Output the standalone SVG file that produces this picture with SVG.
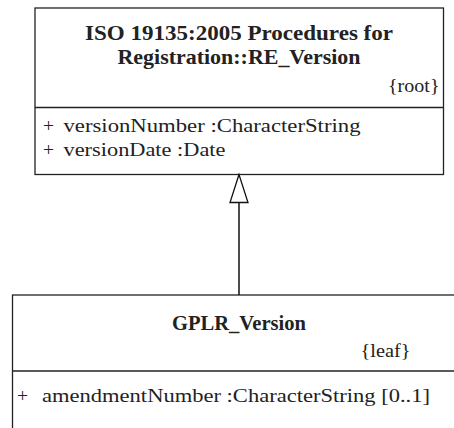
<svg xmlns="http://www.w3.org/2000/svg" width="454" height="428" viewBox="0 0 454 428">
<style>
.box{fill:#fff;stroke:#222;stroke-width:1.3}
.div{stroke:#222;stroke-width:1.3}
text{font-family:"Liberation Serif","DejaVu Serif",serif;fill:#222}
.t{font-size:20px;font-weight:bold}
.a{font-size:19.5px}
.c{stroke:#111;stroke-width:1.5;fill:none}
</style>
<defs>
<marker id="gen" markerWidth="32" markerHeight="22" refX="29" refY="10" orient="auto" markerUnits="userSpaceOnUse" viewBox="0 0 32 22">
<path d="M29 10 L1 1 L1 19 Z" fill="#fff" stroke="#111" stroke-width="1.3"/>
</marker>
</defs>
<g id="RE_Version">
<rect class="box" x="35" y="8" width="408.5" height="166.5"/>
<text class="t" x="85" y="39.5" textLength="308" lengthAdjust="spacingAndGlyphs">ISO 19135:2005 Procedures for</text>
<text class="t" x="117.5" y="63.5" textLength="243" lengthAdjust="spacingAndGlyphs">Registration::RE_Version</text>
<text class="a" x="388" y="92" textLength="51.5" lengthAdjust="spacingAndGlyphs">{root}</text>
<line class="div" x1="35" y1="107.5" x2="443.5" y2="107.5"/>
<text class="a" x="43" y="132">+</text>
<text class="a" x="63.5" y="132" textLength="297" lengthAdjust="spacingAndGlyphs">versionNumber :CharacterString</text>
<text class="a" x="43" y="155.5">+</text>
<text class="a" x="63.5" y="155.5" textLength="162" lengthAdjust="spacingAndGlyphs">versionDate :Date</text>
</g>
<g id="GPLR_Version">
<rect class="box" x="12.5" y="295" width="460" height="160"/>
<text class="t" x="172" y="330" textLength="134" lengthAdjust="spacingAndGlyphs">GPLR_Version</text>
<text class="a" x="360.5" y="357" textLength="50" lengthAdjust="spacingAndGlyphs">{leaf}</text>
<line class="div" x1="12.5" y1="371" x2="454" y2="371"/>
<text class="a" x="17" y="401.5">+</text>
<text class="a" x="42" y="401.5" textLength="388" lengthAdjust="spacingAndGlyphs">amendmentNumber :CharacterString [0..1]</text>
</g>
<g id="connectors">
<line class="c" x1="239" y1="295" x2="239" y2="174.5" marker-end="url(#gen)"/>
</g>
</svg>
